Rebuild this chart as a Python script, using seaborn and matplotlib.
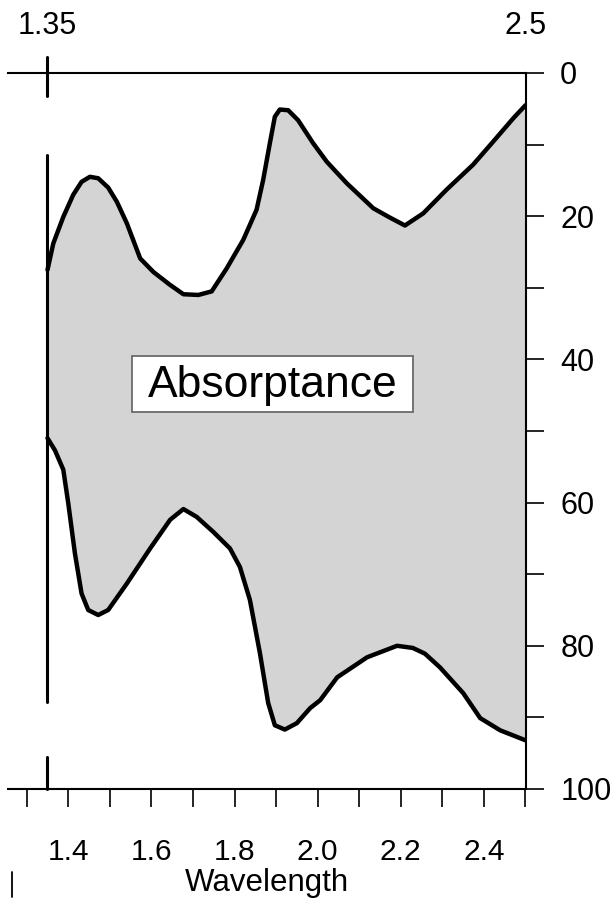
import numpy as np
import matplotlib
matplotlib.use("Agg")
import matplotlib.pyplot as plt
import seaborn as sns
from matplotlib.patches import Rectangle
from matplotlib.lines import Line2D

# Upper boundary of the absorptance band (wavelength, percent from top)
upper_wl = [1.35, 1.364, 1.388, 1.412, 1.432, 1.452, 1.472, 1.496, 1.517, 1.541,
            1.573, 1.605, 1.645, 1.677, 1.713, 1.745, 1.781, 1.821, 1.853, 1.869,
            1.885, 1.897, 1.909, 1.929, 1.953, 1.989, 2.022, 2.070, 2.134, 2.174,
            2.210, 2.254, 2.310, 2.374, 2.422, 2.471, 2.50]
upper_pct = [27.5, 23.8, 20.1, 17.0, 15.2, 14.5, 14.7, 16.0, 18.0, 21.0,
             25.9, 27.8, 29.6, 30.9, 31.0, 30.5, 27.3, 23.3, 19.1, 14.9,
             9.8, 6.1, 5.1, 5.2, 6.6, 9.8, 12.4, 15.4, 18.9, 20.2,
             21.3, 19.6, 16.3, 12.8, 9.6, 6.3, 4.5]

# Lower boundary of the absorptance band
lower_wl = [1.35, 1.368, 1.388, 1.400, 1.416, 1.432, 1.448, 1.472, 1.496, 1.541,
            1.597, 1.645, 1.677, 1.709, 1.749, 1.789, 1.813, 1.837, 1.861, 1.881,
            1.897, 1.921, 1.950, 1.982, 2.006, 2.047, 2.119, 2.191, 2.229, 2.258,
            2.294, 2.350, 2.391, 2.439, 2.50]
lower_pct = [51.0, 52.7, 55.4, 60.1, 67.1, 72.7, 75.0, 75.7, 75.0, 71.3,
             66.4, 62.4, 60.9, 62.0, 64.1, 66.4, 69.0, 73.6, 81.0, 88.0,
             91.1, 91.7, 90.8, 88.7, 87.6, 84.4, 81.6, 80.0, 80.3, 81.1,
             83.0, 86.6, 90.1, 91.8, 93.2]

cutoff = 1.35
x_major = [1.4, 1.6, 1.8, 2.0, 2.2, 2.4]
x_minor = [1.3, 1.5, 1.7, 1.9, 2.1, 2.3, 2.5]
y_major = [0, 20, 40, 60, 80, 100]
y_minor = [10, 30, 50, 70, 90]
top_labels = ["1.35", "2.5"]
top_label_pos = [1.35, 2.5]

sns.set_theme(style="white")
plt.rcParams["font.family"] = ["Liberation Sans", "DejaVu Sans"]

W, H = 615, 899
fig = plt.figure(figsize=(W / 100, H / 100), dpi=100)
ax = fig.add_axes([8 / W, 1 - 789 / H, (525.5 - 8) / W, (789 - 73) / H])

# Shaded band between the two boundaries
poly_x = np.concatenate([upper_wl, lower_wl[::-1]])
poly_y = np.concatenate([upper_pct, lower_pct[::-1]])
ax.fill(poly_x, poly_y, color="#d4d4d4", lw=0, zorder=1)

sns.lineplot(x=upper_wl, y=upper_pct, ax=ax, color="black", lw=3.2,
             sort=False, estimator=None, zorder=3)
sns.lineplot(x=lower_wl, y=lower_pct, ax=ax, color="black", lw=3.2,
             sort=False, estimator=None, zorder=3)
for line in ax.lines:
    line.set_solid_joinstyle("round")
    line.set_solid_capstyle("round")

# Cutoff marker, drawn in three pieces
for y0, y1 in [(-2.2, 3.2), (11.5, 87.8), (95.5, 100)]:
    ax.plot([cutoff, cutoff], [y0, y1], color="black", lw=2.2,
            clip_on=False, zorder=4)

ax.set_xlim(1.255, 2.5)
ax.set_ylim(100, 0)

ax.spines["left"].set_visible(False)
for side in ["top", "bottom", "right"]:
    ax.spines[side].set_visible(True)
    ax.spines[side].set_color("black")
    ax.spines[side].set_linewidth(1.5)

ax.yaxis.tick_right()
ax.set_yticks(y_major)
ax.set_yticks(y_minor, minor=True)
ax.set_yticklabels([str(v) for v in y_major])
ax.tick_params(axis="y", which="both", direction="out", length=13, width=1.2,
               pad=12, labelsize=22, colors="black", right=True, left=False)

ax.set_xticks(x_major)
ax.set_xticks(x_minor, minor=True)
ax.set_xticklabels([f"{v:.1f}" for v in x_major])
ax.tick_params(axis="x", which="both", direction="out", length=13, width=1.2,
               pad=22, labelsize=21.5, colors="black", bottom=True, top=False)

ax.set_xlabel("Wavelength", fontsize=22.5, labelpad=2, color="black")

for lab, pos in zip(top_labels, top_label_pos):
    ax.annotate(lab, xy=(pos, 1), xycoords=ax.get_xaxis_transform(),
                xytext=(0, 34), textcoords="offset points",
                ha="center", va="center", fontsize=22, color="black",
                annotation_clip=False)

# Label frame and text
ax.add_patch(Rectangle((1.5526, 39.5), 2.230 - 1.5526, 47.4 - 39.5,
                       facecolor="white", edgecolor="#6a6a6a", lw=1.3, zorder=5))
ax.text(1.891, 43.6, "Absorptance", fontsize=32, ha="center", va="center",
        color="black", zorder=6)

fig.add_artist(Line2D([12 / W, 12 / W], [1 - 897 / H, 1 - 872 / H],
                      color="black", lw=1.3))

fig.savefig("out.png", dpi=100)
